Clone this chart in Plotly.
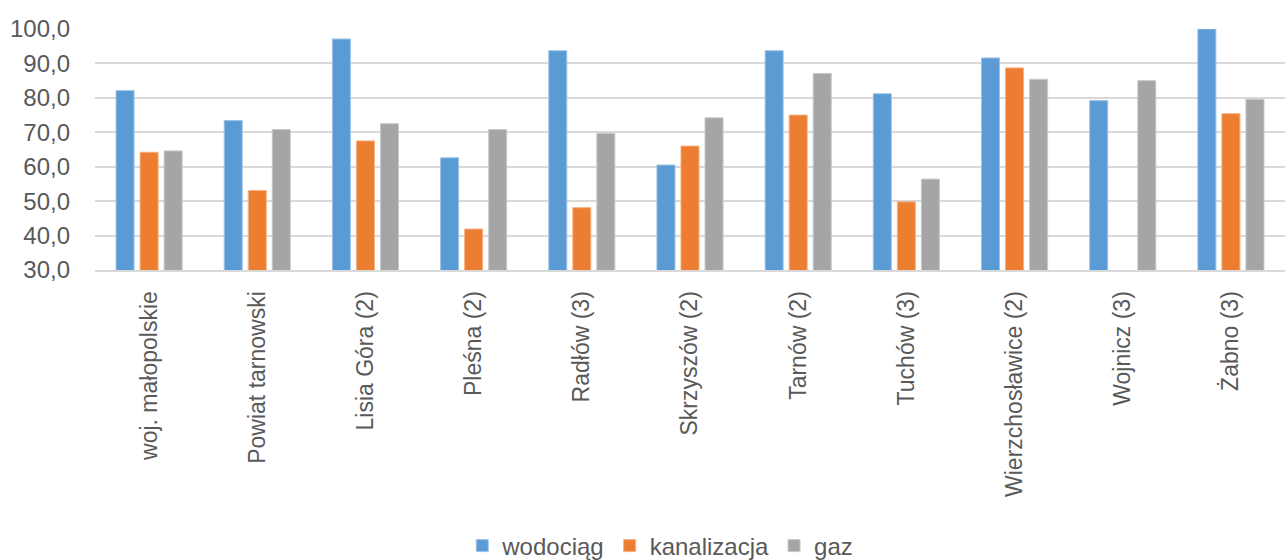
import plotly.graph_objects as go

categories = ["woj. małopolskie", "Powiat tarnowski", "Lisia Góra (2)", "Pleśna (2)",
              "Radłów (3)", "Skrzyszów (2)", "Tarnów (2)", "Tuchów (3)",
              "Wierzchosławice (2)", "Wojnicz (3)", "Żabno (3)"]
wodociag = [82.1, 73.4, 97.1, 62.6, 93.7, 60.5, 93.7, 81.2, 91.6, 79.2, 100.0]
kanalizacja = [64.2, 53.1, 67.5, 41.9, 48.1, 66.0, 75.0, 49.8, 88.7, None, 75.4]
gaz = [64.6, 70.8, 72.5, 70.8, 69.7, 74.2, 87.1, 56.4, 85.4, 85.0, 79.6]
y_ticks = [30, 40, 50, 60, 70, 80, 90, 100]

series = [("wodociąg", wodociag, "#5B9BD5", "#9DC3E6"),
          ("kanalizacja", kanalizacja, "#ED7D31", "#F4B183"),
          ("gaz", gaz, "#A5A5A5", "#C9C9C9")]

fig = go.Figure()
for name, vals, col, edge in series:
    fig.add_trace(go.Bar(x=categories, y=vals, name=name,
                         marker=dict(color=col, line=dict(color=edge, width=1))))

font_family = "Liberation Sans, Arial, sans-serif"
fig.update_layout(
    width=1285, height=560,
    margin=dict(l=95, r=0, t=29, b=290, autoexpand=False),
    plot_bgcolor="white", paper_bgcolor="white",
    barmode="group", bargap=0.333, bargroupgap=0.25,
    separators=", ",
    font=dict(family=font_family, color="#595959", size=22),
    showlegend=True,
    legend=dict(orientation="h", x=0.475, xanchor="center", yref="container",
                y=0.025, yanchor="middle", font=dict(size=24, color="#595959"),
                itemwidth=30, tracegroupgap=0),
)
fig.update_yaxes(range=[30, 100], tickvals=y_ticks, tickformat=".1f",
                 showgrid=True, gridcolor="#D9D9D9", gridwidth=2,
                 zeroline=False, showline=False, ticks="",
                 ticklabelstandoff=24, tickfont=dict(size=24, color="#595959"))
fig.update_xaxes(tickangle=-90, showline=True, linecolor="#D9D9D9", linewidth=2,
                 ticks="", ticklabelstandoff=10,
                 tickfont=dict(size=23, color="#595959"))

fig.write_html("out.html")
